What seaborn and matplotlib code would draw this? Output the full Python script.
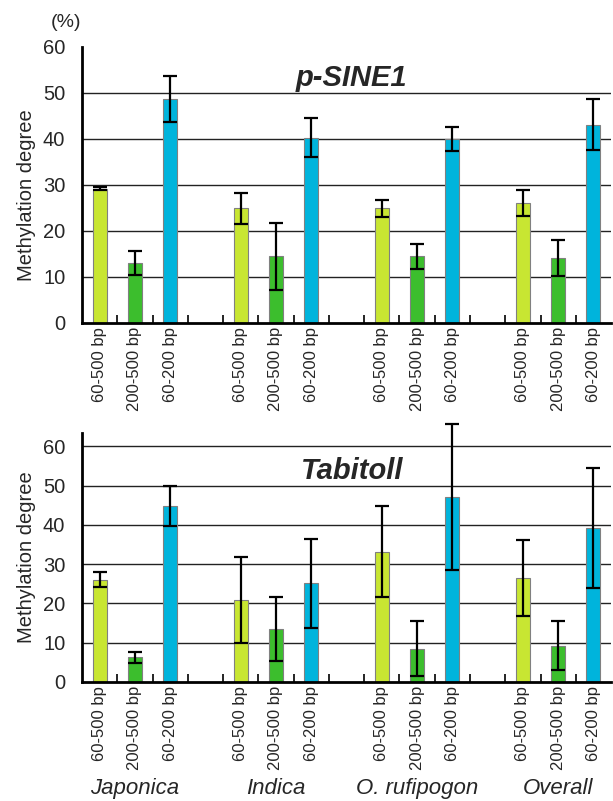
import numpy as np
import pandas as pd
import matplotlib
import matplotlib.pyplot as plt
import matplotlib.transforms as mtransforms
import seaborn as sns


# ==========================
# DADOS
# ==========================

groups = ['Japonica', 'Indica', 'O. rufipogon', 'Overall']
sizes = ['60-500 bp', '200-500 bp', '60-200 bp']

psine_mean = [29.2, 13.1, 48.7,
              24.9, 14.5, 40.3,
              24.9, 14.5, 39.9,
              26.1, 14.1, 43.1]
psine_err = [0.4, 2.6, 5.0,
             3.4, 7.3, 4.2,
             1.9, 2.7, 2.6,
             2.8, 4.0, 5.5]

tabit_mean = [26.0, 6.2, 44.8,
              20.8, 13.5, 25.1,
              33.2, 8.4, 47.2,
              26.5, 9.2, 39.2]
tabit_err = [1.9, 1.5, 5.0,
             11.0, 8.2, 11.4,
             11.6, 7.0, 18.6,
             9.7, 6.3, 15.3]

palette = {
    '60-500 bp': '#C8E632',
    '200-500 bp': '#3CBE2D',
    '60-200 bp': '#00B4DC',
}


# ==========================
# CONFIGURAÇÕES
# ==========================

sns.set_style('white')
plt.rcParams['font.family'] = ['Liberation Sans', 'DejaVu Sans']


def build_frame(means, errs):
    rows = []
    for g, group in enumerate(groups):
        for k, size in enumerate(sizes):
            i = g * len(sizes) + k
            rows.append({
                'group': group,
                'size': size,
                'pos': g * (len(sizes) + 1) + k,
                'value': means[i],
                'err': errs[i],
            })
    return pd.DataFrame(rows)


def draw_panel(ax, df, title, ymax, title_y):
    sns.barplot(
        data=df, x='pos', y='value', hue='size',
        palette=palette, native_scale=True, dodge=False,
        width=0.4, edgecolor='#808080', linewidth=0.8,
        saturation=1, errorbar=None, legend=False, ax=ax
    )
    ax.errorbar(
        df['pos'], df['value'], yerr=df['err'],
        fmt='none', ecolor='black', elinewidth=1.6,
        capsize=5, capthick=1.6, clip_on=False, zorder=5
    )

    ax.set_xlim(-0.5, df['pos'].max() + 0.5)
    ax.set_ylim(0, ymax)
    ax.set_yticks(np.arange(0, 61, 10))
    ax.set_xticks(df['pos'])
    ax.set_xticklabels(df['size'], rotation=90, va='top', ha='center')
    ax.set_xticks(np.arange(0.5, df['pos'].max(), 1.0), minor=True)

    ax.tick_params(axis='x', which='major', length=0, pad=3, labelsize=12)
    ax.tick_params(axis='x', which='minor', direction='in', length=6,
                   width=1.2, color='black', bottom=True)
    ax.tick_params(axis='y', length=0, pad=12, labelsize=14.5)

    ax.yaxis.grid(True, color='#222222', linewidth=1.0)
    ax.xaxis.grid(False)
    ax.set_axisbelow(True)
    gl = ax.get_ygridlines()
    gl[0].set_visible(False)
    if ymax <= 60:
        gl[-1].set_visible(False)

    for side in ['top', 'right']:
        ax.spines[side].set_visible(False)
    for side in ['left', 'bottom']:
        ax.spines[side].set_color('black')
        ax.spines[side].set_linewidth(2)

    ax.set_xlabel('')
    ax.set_ylabel('')

    ax.text(0.51, title_y, title, transform=ax.transAxes,
            ha='center', va='baseline', fontsize=21,
            fontweight='bold', fontstyle='italic')


# ==========================
# FIGURA
# ==========================

fig = plt.figure(figsize=(6.13, 8.01), dpi=100)

ax1 = fig.add_axes([0.1338, 0.5968, 0.863, 0.3446])
ax2 = fig.add_axes([0.1338, 0.1489, 0.863, 0.3109])

df1 = build_frame(psine_mean, psine_err)
df2 = build_frame(tabit_mean, tabit_err)

draw_panel(ax1, df1, 'p-SINE1', 60, 0.858)
draw_panel(ax2, df2, 'Tabitoll', 63.5, 0.815)

fig.text(0.044, 0.7566, 'Methylation degree', rotation=90,
         ha='center', va='center', fontsize=14.5)
fig.text(0.044, 0.3046, 'Methylation degree', rotation=90,
         ha='center', va='center', fontsize=14.5)

fig.text(0.108, 0.9725, '(%)', ha='center', va='center', fontsize=14)

trans = mtransforms.blended_transform_factory(ax2.transData, fig.transFigure)
for g, group in enumerate(groups):
    ax2.text(g * (len(sizes) + 1) + 1, 0.0162, group, transform=trans,
             ha='center', va='center', fontsize=16, fontstyle='italic')

fig.savefig('out.png', dpi=100)
plt.close(fig)
